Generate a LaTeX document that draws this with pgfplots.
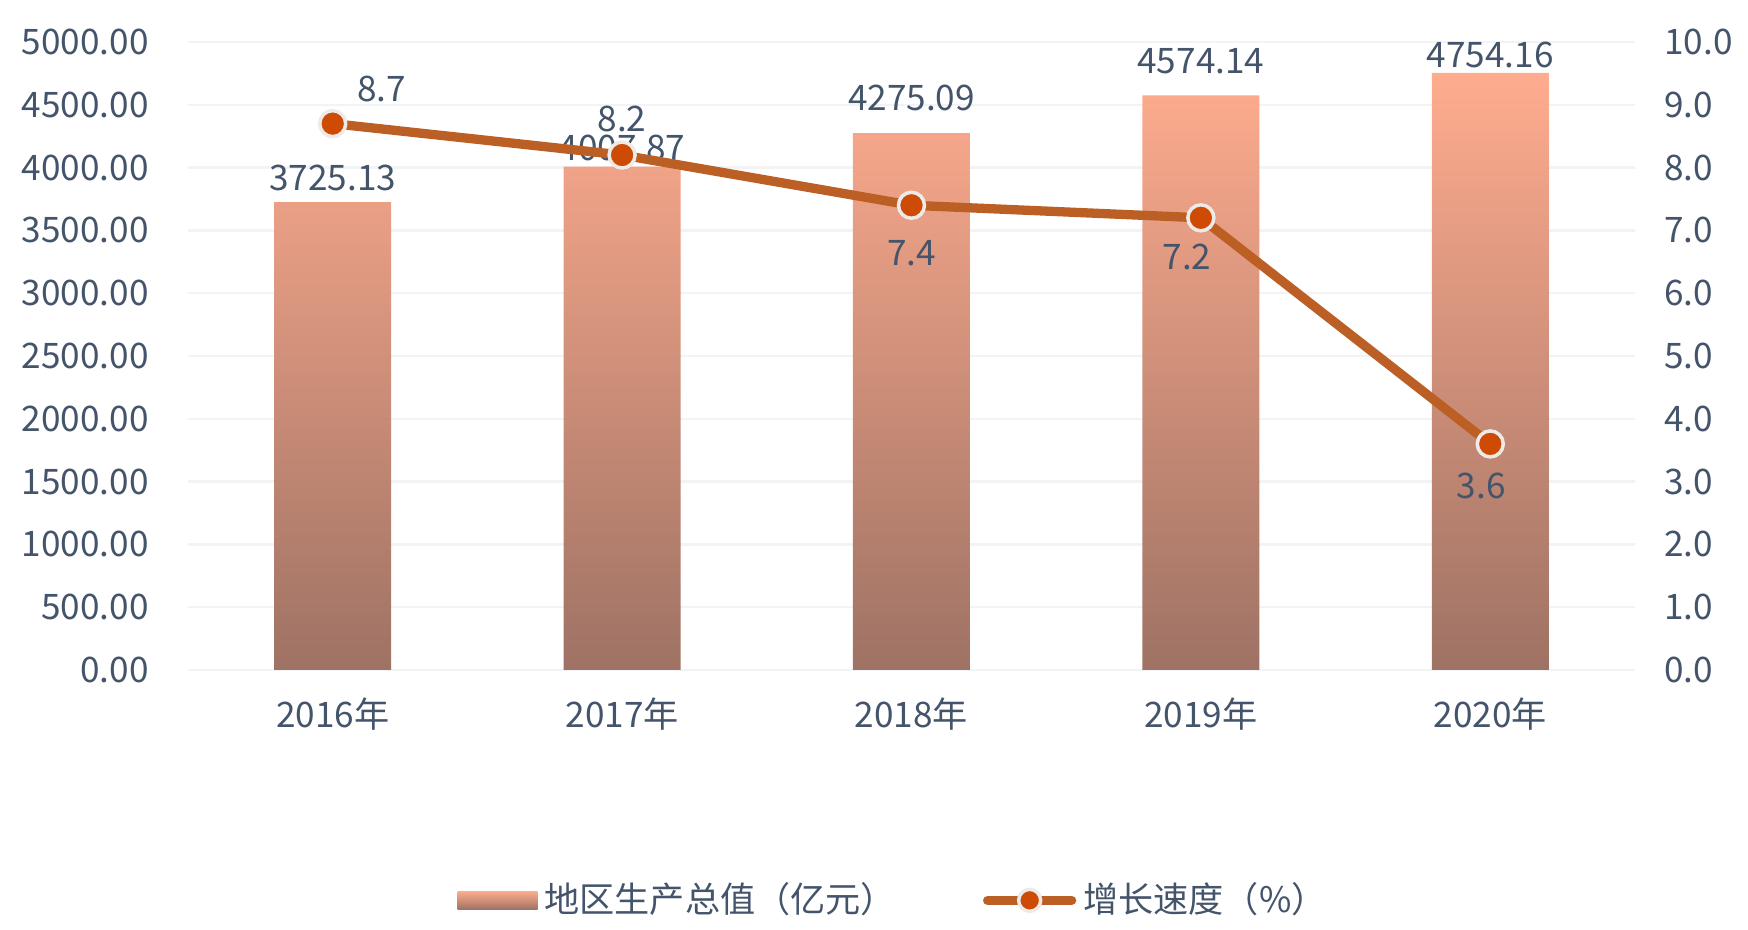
\documentclass[border=0pt]{standalone}
\usepackage{pgfplots}
\pgfplotsset{compat=1.18}
\usepackage{pgfplotstable}
\usepackage{fontspec}
\setmainfont{Noto Sans CJK SC}
\definecolor{txt}{RGB}{68,84,106}
\definecolor{barTop}{RGB}{255,172,142}
\definecolor{barBot}{RGB}{158,114,100}
\definecolor{lineC}{RGB}{188,95,36}
\definecolor{markC}{RGB}{205,75,5}
\definecolor{markB}{RGB}{238,234,232}
\definecolor{gridC}{RGB}{241,243,245}

\pgfplotstableread{
x gdp dy
0 3725.13 2.45
1 4007.87 1.86
2 4275.09 3.5
3 4574.14 3.4
4 4754.16 1.8
}\gdptab
\pgfplotstableread{
x rate dx dy
0 8.7 4.9 3.5
1 8.2 0 3.6
2 7.4 0 -4.8
3 7.2 -1.4 -3.9
4 3.6 -0.9 -4.2
}\ratetab

\begin{document}
\begin{tikzpicture}[font=\fontsize{10}{12}\selectfont]
\pgfplotsset{
  base/.style={
    scale only axis, width=144.7mm, height=62.8mm,
    at={(18.8mm,26mm)}, anchor=south west,
    xmin=-0.5, xmax=4.5,
    axis line style={draw=none},
    major tick length=0pt,
    clip=false,
    ticklabel style={text=txt, font=\fontsize{10}{12}\selectfont},
    /pgf/number format/assume math mode=true,
  }
}
\begin{axis}[base,
  ymin=0, ymax=5000, ytick={0,500,...,5000},
  ymajorgrids, major grid style={draw=gridC, line width=0.7pt},
  xtick={0,...,4},
  xticklabels={2016年,2017年,2018年,2019年,2020年},
  yticklabel style={xshift=-2.7mm, /pgf/number format/.cd, fixed, fixed zerofill, precision=2, 1000 sep={}},
  xticklabel style={yshift=-1.5mm},
]
\addplot[ybar, bar width=11.7mm, draw=none, top color=barTop, bottom color=barBot] table[x=x,y=gdp]{\gdptab};
\addplot[draw=none, mark=none,
  point meta=explicit,
  nodes near coords={\pgfmathprintnumber[fixed,fixed zerofill,precision=2,1000 sep={},assume math mode=true]{\pgfplotspointmeta}},
  visualization depends on={\thisrow{dy} \as \dy},
  every node near coord/.append style={anchor=center, yshift=\dy mm, text=txt, font=\fontsize{10}{12}\selectfont}
] table[x=x,y=gdp,meta=gdp]{\gdptab};
\end{axis}

\begin{axis}[base,
  ymin=0, ymax=10, ytick={0,1,...,10},
  yticklabel pos=right,
  xtick=\empty,
  yticklabel style={xshift=1.7mm, /pgf/number format/.cd, fixed, fixed zerofill, precision=1},
  legend style={at={(0.489,-0.3668)}, anchor=center, draw=none, fill=none,
    legend columns=2, text=txt, font=\fontsize{10}{12}\selectfont,
    /tikz/every even column/.append style={column sep=8mm}},
  legend cell align=left,
]
\addlegendimage{legend image code/.code={\path[draw=none, top color=barTop, bottom color=barBot] (0mm,-0.9mm) rectangle (8mm,0.9mm);}}
\addlegendentry{地区生产总值（亿元）}
\addplot[lineC, line width=0.93mm, mark=*, mark size=1.3mm,
  mark options={fill=markC, draw=markB, line width=0.35mm},
  point meta=explicit,
  nodes near coords={\pgfmathprintnumber[fixed,fixed zerofill,precision=1,assume math mode=true]{\pgfplotspointmeta}},
  visualization depends on={\thisrow{dx} \as \dx},
  visualization depends on={\thisrow{dy} \as \dy},
  every node near coord/.append style={anchor=center, xshift=\dx mm, yshift=\dy mm, text=txt, font=\fontsize{10}{12}\selectfont},
  legend image code/.code={
    \draw[lineC, line width=0.93mm, line cap=round] (0mm,0mm) -- (8.4mm,0mm);
    \draw[fill=markC, draw=markB, line width=0.35mm] (4.2mm,0mm) circle (1.1mm);}
] table[x=x,y=rate,meta=rate]{\ratetab};
\addlegendentry{增长速度（\%）}
\end{axis}
\pgfresetboundingbox
\path[use as bounding box] (0,0) rectangle (174.8mm,93mm);
\end{tikzpicture}
\end{document}
